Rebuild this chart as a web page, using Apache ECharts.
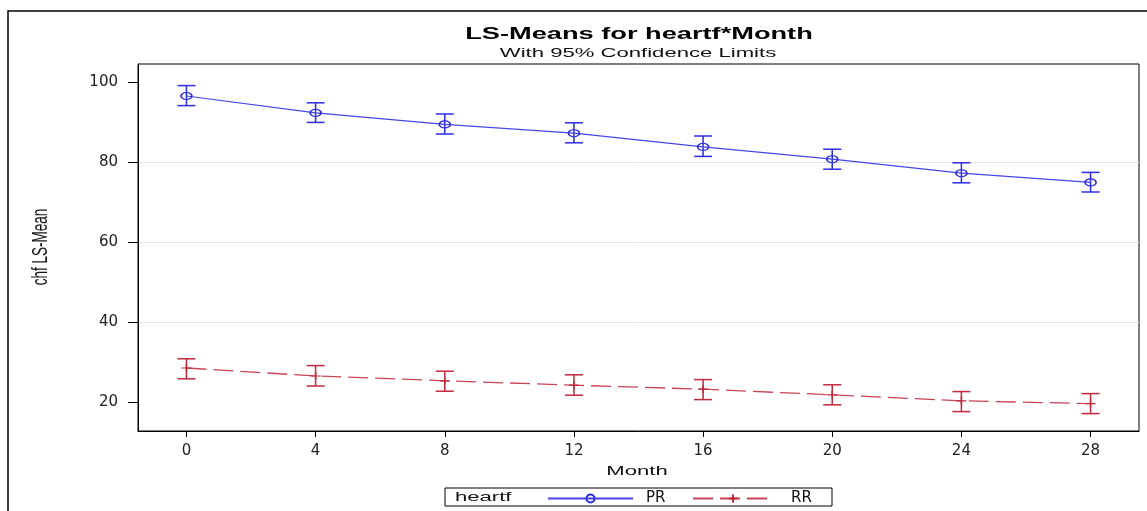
<!DOCTYPE html>
<html>
<head>
<meta charset="utf-8">
<script src="https://cdn.jsdelivr.net/npm/echarts@6.0.0/dist/echarts.min.js"></script>
<style>
  html, body { margin: 0; padding: 0; background: #fff; }
  #chart { width: 1147px; height: 511px; }
</style>
</head>
<body>
<div id="chart"></div>
<script>
// ---- Data ----
const months  = [0, 4, 8, 12, 16, 20, 24, 28];
const prMean  = [96.5, 92.3, 89.4, 87.2, 83.8, 80.7, 77.2, 74.9];
const prLower = [94.1, 89.9, 87.0, 84.8, 81.4, 78.2, 74.8, 72.5];
const prUpper = [99.1, 94.8, 92.0, 89.8, 86.5, 83.2, 79.8, 77.4];
const rrMean  = [28.5, 26.5, 25.3, 24.2, 23.2, 21.8, 20.3, 19.6];
const rrLower = [25.8, 24.0, 22.7, 21.7, 20.6, 19.3, 17.6, 17.1];
const rrUpper = [30.8, 29.1, 27.7, 26.8, 25.6, 24.3, 22.6, 22.1];
const xTicks  = [0, 4, 8, 12, 16, 20, 24, 28];
const yTicks  = [20, 40, 60, 80, 100];
const titleText    = 'LS-Means for heartf*Month';
const subtitleText = 'With 95% Confidence Limits';
const xName = 'Month';
const yName = 'chf LS-Mean';
const legendTitle = 'heartf';
const groupNames = ['PR', 'RR'];

// ---- Styles ----
const BLUE = '#2c2ce2';
const BLUE_LINE = '#4646ea';
const RED = '#c0283c';
const RED_LINE = '#c94455';
const STRETCH = 1.7;

function errorBar(color) {
  return function (params, api) {
    const x = api.value(0);
    const lo = api.coord([x, api.value(1)]);
    const hi = api.coord([x, api.value(2)]);
    const hw = 9;
    const st = { stroke: color, lineWidth: 1.5 };
    return {
      type: 'group',
      children: [
        { type: 'line', shape: { x1: lo[0], y1: lo[1], x2: hi[0], y2: hi[1] }, style: st },
        { type: 'line', shape: { x1: lo[0] - hw, y1: lo[1], x2: lo[0] + hw, y2: lo[1] }, style: st },
        { type: 'line', shape: { x1: hi[0] - hw, y1: hi[1], x2: hi[0] + hw, y2: hi[1] }, style: st }
      ]
    };
  };
}

const chart = echarts.init(document.getElementById('chart'), null, { renderer: 'canvas' });

const option = {
  animation: false,
  backgroundColor: '#fff',
  grid: {
    left: 138, top: 64, width: 1001, height: 367,
    show: true, borderColor: '#000', borderWidth: 1, backgroundColor: 'transparent'
  },
  xAxis: {
    type: 'value',
    min: -1.5, max: 29.5,
    axisLine: { show: true, onZero: false, lineStyle: { color: '#000', width: 1 } },
    axisTick: { show: true, length: 6, customValues: xTicks, lineStyle: { color: '#000' } },
    axisLabel: {
      customValues: xTicks, margin: 13,
      fontFamily: 'DejaVu Sans', fontSize: 15, color: '#222'
    },
    splitLine: { show: false }
  },
  yAxis: {
    type: 'value',
    min: 12.75, max: 104.5,
    axisLine: { show: true, onZero: false, lineStyle: { color: '#000', width: 1 } },
    axisTick: { show: true, length: 10, customValues: yTicks, lineStyle: { color: '#000' } },
    axisLabel: {
      customValues: yTicks, margin: 20,
      fontFamily: 'DejaVu Sans', fontSize: 15, color: '#222'
    },
    splitLine: { show: true, showMinLine: false, showMaxLine: false, lineStyle: { color: '#e4e4e4', width: 1 } }
  },
  legend: [
    {
      data: [groupNames[0]],
      left: 547, top: 491, padding: 0,
      itemWidth: 85, itemHeight: 10,
      textStyle: { fontFamily: 'DejaVu Sans', fontSize: 15, color: '#111', padding: [0, 0, 0, 8] },
      selectedMode: false
    },
    {
      data: [groupNames[1]],
      left: 692, top: 491, padding: 0,
      itemWidth: 80, itemHeight: 10,
      textStyle: { fontFamily: 'DejaVu Sans', fontSize: 15, color: '#111', padding: [0, 0, 0, 13] },
      selectedMode: false
    }
  ],
  graphic: [
    // outer frame (top and left visible)
    { type: 'rect', shape: { x: 8, y: 11, width: 1200, height: 600 },
      style: { fill: 'none', stroke: '#000', lineWidth: 1.5 }, silent: true },
    { type: 'text', x: 639, y: 35, scaleX: STRETCH,
      style: { text: titleText, font: 'bold 16px "Liberation Sans", Arial, sans-serif',
               fill: '#000', align: 'center', verticalAlign: 'middle' } },
    { type: 'text', x: 638, y: 53, scaleX: STRETCH,
      style: { text: subtitleText, font: '13px "Liberation Sans", Arial, sans-serif',
               fill: '#111', align: 'center', verticalAlign: 'middle' } },
    { type: 'text', x: 637, y: 471, scaleX: STRETCH,
      style: { text: xName, font: '13px "Liberation Sans", Arial, sans-serif',
               fill: '#111', align: 'center', verticalAlign: 'middle' } },
    { type: 'text', x: 41, y: 247, rotation: Math.PI / 2, scaleY: STRETCH,
      style: { text: yName, font: '13.5px "Liberation Sans", Arial, sans-serif',
               fill: '#111', align: 'center', verticalAlign: 'middle' } },
    { type: 'rect', shape: { x: 445, y: 488, width: 387, height: 18 },
      style: { fill: 'none', stroke: '#000', lineWidth: 1 } },
    { type: 'text', x: 455, y: 497, scaleX: STRETCH,
      style: { text: legendTitle, font: '13px "Liberation Sans", Arial, sans-serif',
               fill: '#111', align: 'left', verticalAlign: 'middle' } }
  ],
  series: [
    {
      name: groupNames[0] + ' CI', type: 'custom', z: 2,
      renderItem: errorBar(BLUE),
      encode: { x: 0, y: [1, 2] },
      data: months.map((m, i) => [m, prLower[i], prUpper[i]])
    },
    {
      name: groupNames[1] + ' CI', type: 'custom', z: 2,
      renderItem: errorBar(RED),
      encode: { x: 0, y: [1, 2] },
      data: months.map((m, i) => [m, rrLower[i], rrUpper[i]])
    },
    {
      name: groupNames[0], type: 'line', z: 3,
      data: months.map((m, i) => [m, prMean[i]]),
      symbol: 'circle', symbolSize: [11, 7], showSymbol: true,
      itemStyle: { color: 'transparent', borderColor: BLUE, borderWidth: 1.4 },
      lineStyle: { color: BLUE_LINE, width: 1.2, type: 'solid' }
    },
    {
      name: groupNames[1], type: 'line', z: 3,
      data: months.map((m, i) => [m, rrMean[i]]),
      symbol: 'path://M0,5L10,5M5,0L5,10', symbolSize: [10, 8], showSymbol: true,
      itemStyle: { color: 'transparent', borderColor: RED, borderWidth: 1.3 },
      lineStyle: { color: RED_LINE, width: 1.3, type: [20, 7] }
    }
  ]
};

chart.setOption(option);
</script>
</body>
</html>
